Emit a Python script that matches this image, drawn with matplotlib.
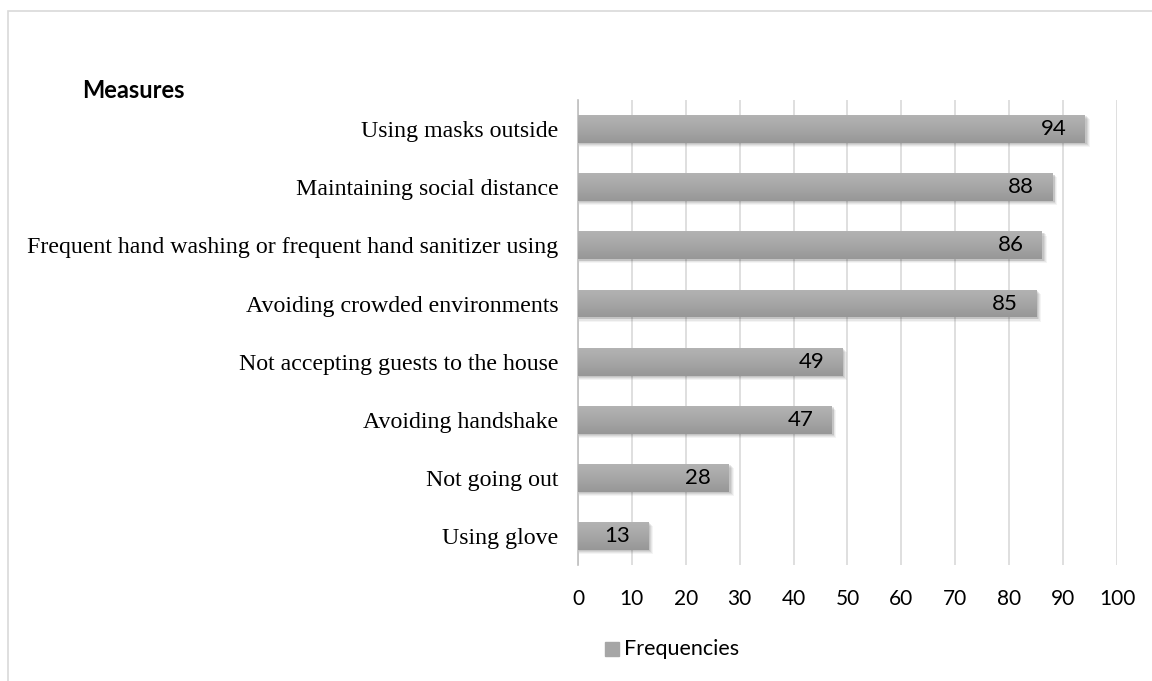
import matplotlib
matplotlib.use("Agg")
import numpy as np
import matplotlib.pyplot as plt
from matplotlib.patches import Rectangle
from matplotlib.colors import LinearSegmentedColormap

categories = [
    "Using glove",
    "Not going out",
    "Avoiding handshake",
    "Not accepting guests to the house",
    "Avoiding crowded environments",
    "Frequent hand washing or frequent hand sanitizer using",
    "Maintaining social distance",
    "Using masks outside",
]
frequencies = [13, 28, 47, 49, 85, 86, 88, 94]
x_ticks = list(range(0, 101, 10))

fig = plt.figure(figsize=(11.52, 6.81), dpi=100)
ax = fig.add_axes([0.5017, 0.1703, 0.4679, 0.6827])

# outer chart frame
fig.patches.append(Rectangle((8 / 1152, -0.05), 1.1, 1 - 11 / 681 + 0.05,
                             transform=fig.transFigure, fill=False,
                             edgecolor="#d9d9d9", linewidth=1.2))

ypos = np.arange(len(categories))
bar_h = 0.48
bars = ax.barh(ypos, frequencies, height=bar_h, color="none", zorder=3)

# soft drop shadow, then a vertical gradient fill (lighter on top)
grad = np.linspace(0, 1, 64).reshape(-1, 1)
cmap = LinearSegmentedColormap.from_list("bar", ["#979797", "#a6a6a6", "#b3b3b3"])
for rect in bars:
    x0, y0 = rect.get_x(), rect.get_y()
    w, h = rect.get_width(), rect.get_height()
    for k, a in [(1.0, 0.05), (0.75, 0.07), (0.5, 0.09), (0.3, 0.1)]:
        ax.add_patch(Rectangle((x0 + 0.2, y0 - 0.07 * k), w + 0.75 * k, h,
                               facecolor="#303030", alpha=a, edgecolor="none", zorder=2))
    im = ax.imshow(grad, extent=(x0, x0 + w, y0, y0 + h), origin="lower",
                   aspect="auto", cmap=cmap, zorder=3, interpolation="bilinear")
    im.set_clip_path(rect)

for y, v in zip(ypos, frequencies):
    ax.annotate(str(v), (v, y), xytext=(-13, 0), textcoords="offset points",
                ha="right", va="center", fontsize=16, family="Lato", color="#000000", zorder=4)

ax.set_xlim(0, 100)
ax.set_ylim(-0.5, len(categories) - 0.5)
ax.set_xticks(x_ticks)
ax.set_xticklabels([str(t) for t in x_ticks], family="Lato", fontsize=15)
ax.set_yticks(ypos)
ax.set_yticklabels(categories, family="Liberation Serif", fontsize=17.2)
ax.tick_params(axis="x", length=0, pad=17)
ax.tick_params(axis="y", length=0, pad=14)
ax.grid(axis="x", color="#d9d9d9", linewidth=1.2, zorder=0)
for s in ["top", "right", "bottom"]:
    ax.spines[s].set_visible(False)
ax.spines["left"].set_color("#bfbfbf")
ax.spines["left"].set_linewidth(1.2)

fig.text(82 / 1152, 1 - 90 / 681, "Measures", fontsize=17, fontweight="bold",
         family="Lato", va="center", ha="left")

fig.patches.append(Rectangle((605 / 1152, 1 - 656 / 681), 14 / 1152, 14 / 681,
                             transform=fig.transFigure, color="#a6a6a6"))
fig.text(624 / 1152, 1 - 649 / 681, "Frequencies", fontsize=15.5, family="Lato",
         va="center", ha="left")

fig.savefig("out.png", dpi=100)
